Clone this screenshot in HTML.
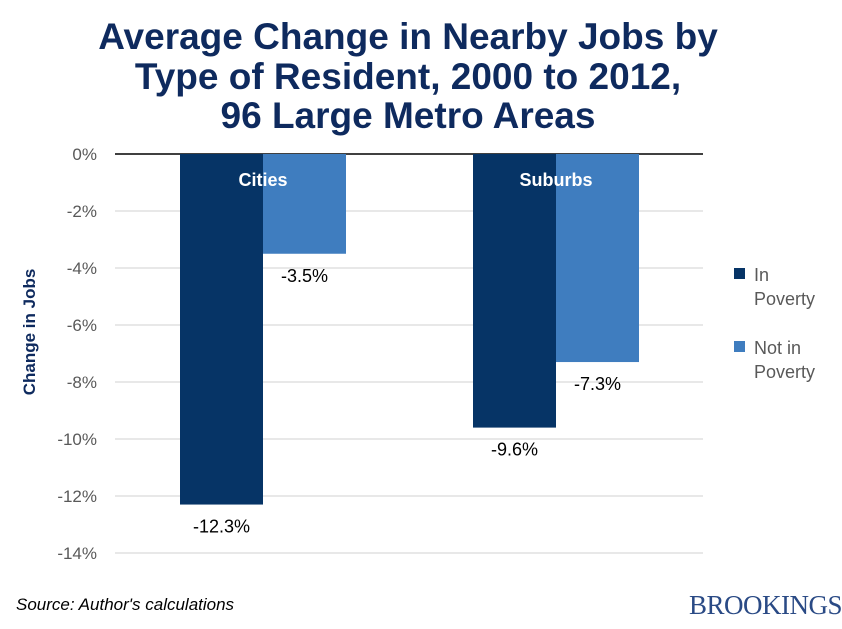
<!DOCTYPE html>
<html><head><meta charset="utf-8"><style>
body{margin:0;background:#fff;width:842px;height:624px;overflow:hidden;font-family:"Liberation Sans",sans-serif;}
</style></head><body>
<svg width="842" height="624" xmlns="http://www.w3.org/2000/svg">
<g id="title" font-family="Liberation Sans, sans-serif" font-weight="bold" font-size="37" fill="#0e2a5e" text-anchor="middle">
<text x="408" y="49">Average Change in Nearby Jobs by</text>
<text x="408" y="89">Type of Resident, 2000 to 2012,</text>
<text x="408" y="128">96 Large Metro Areas</text>
</g>
<g id="grid"></g>
<g id="bars"></g>
<g id="labels"></g>
<text x="35" y="332" transform="rotate(-90 35 332)" text-anchor="middle" font-size="17" font-weight="bold" fill="#0e2a5e">Change in Jobs</text>
<g font-size="18" fill="#595959">
<rect x="734" y="268" width="11" height="11" fill="#063466"/>
<text x="754" y="281"><tspan x="754">In</tspan><tspan x="754" dy="24">Poverty</tspan></text>
<rect x="734" y="341" width="11" height="11" fill="#3f7dbf"/>
<text x="754" y="354"><tspan x="754">Not in</tspan><tspan x="754" dy="24">Poverty</tspan></text>
</g>
<text x="16" y="610" font-size="17" font-style="italic" fill="#000">Source: Author's calculations</text>
<text x="842" y="614" text-anchor="end" font-family="Liberation Serif, serif" font-size="27" fill="#2a4a85" letter-spacing="-0.5">BROOKINGS</text>
</svg>
<script>
const categories=["Cities","Suburbs"];
const inPoverty=[-12.3,-9.6];
const notInPoverty=[-3.5,-7.3];
const yTicks=[0,-2,-4,-6,-8,-10,-12,-14];
const NS="http://www.w3.org/2000/svg";
const y0=154,pxPer=28.5;
function yS(v){return y0-v*pxPer;}
const catStart=[180,473],barW=83;
function mk(tag,attrs,parent,text){const e=document.createElementNS(NS,tag);for(const k in attrs)e.setAttribute(k,attrs[k]);if(text!=null)e.textContent=text;document.getElementById(parent).appendChild(e);return e;}
yTicks.forEach(t=>{
 const g=mk("line",{x1:115,x2:703,y1:yS(t),y2:yS(t),stroke:t===0?"#000":"#d0d0d0","stroke-width":t===0?1.5:1},"grid");
 
 
 const l=mk("text",{x:97,y:yS(t)+6,"text-anchor":"end","font-size":17,fill:"#595959"},"grid",t+"%");
 
 
});
categories.forEach((c,i)=>{
 const x=catStart[i];
 const b1=mk("rect",{x:x,y:y0,width:barW,height:yS(inPoverty[i])-y0,fill:"#063466"},"bars");
 
 
 const b2=mk("rect",{x:x+barW,y:y0,width:barW,height:yS(notInPoverty[i])-y0,fill:"#3f7dbf"},"bars");
 
 
 const cl=mk("text",{x:x+barW,y:186,"text-anchor":"middle","font-size":18,"font-weight":"bold",fill:"#fff"},"labels",c);
 
 
 const v1=mk("text",{x:x+barW/2,y:yS(inPoverty[i])+28,"text-anchor":"middle","font-size":18,fill:"#000"},"labels",inPoverty[i].toFixed(1)+"%");
 
 
 const v2=mk("text",{x:x+barW+barW/2,y:yS(notInPoverty[i])+28,"text-anchor":"middle","font-size":18,fill:"#000"},"labels",notInPoverty[i].toFixed(1)+"%");
 
 
});
</script>
</body></html>
